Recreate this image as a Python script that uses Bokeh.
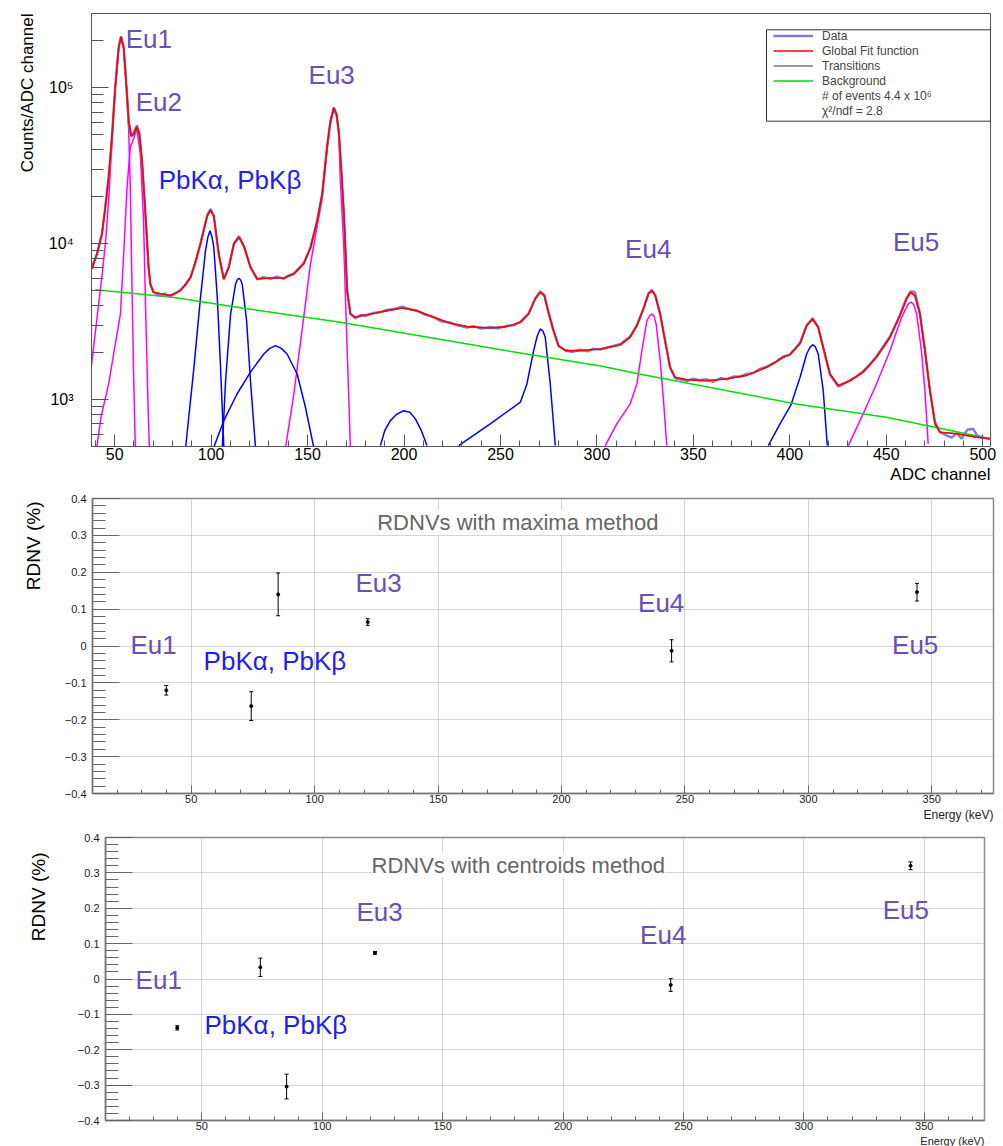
from math import pi
from bokeh.plotting import figure
from bokeh.models import (Range1d, FixedTicker, SingleIntervalTicker, CustomJSTickFormatter,
                          Label, BoxAnnotation, Legend, LegendItem, Whisker, TeeHead, ColumnDataSource, Title)
from bokeh.embed import file_html
from bokeh.resources import INLINE

FONT = "Liberation Sans"
EU_COLOR = "#6a50b4"
PB_COLOR = "#1e1ef0"

# ------------------------------------------------------------------ spectrum data
data_ch = [38, 41, 43.5, 45, 47, 48.5, 50.3, 52, 53.3, 54.7, 56, 57.3, 58.6, 59.8, 61.5, 62.8, 64.2, 65.5,
           66.7, 67.6, 68.5, 70, 72, 74, 76, 78, 80, 82, 84, 86.6, 89.4, 92, 94.5, 98, 99.7, 101.4, 104,
           106.6, 109.2, 111.8, 114.4, 117, 120.4, 123.9, 127, 130.8, 134, 137.7, 140, 142.9, 148, 151.5,
           155, 157.6, 160.1, 161.8, 163.6, 165, 166.2, 167.6, 168.8, 169.6, 170.5, 172.2, 174.8, 177.4,
           180, 184.3, 188, 191.2, 195, 199, 202, 206.8, 210, 215.4, 219, 224, 228, 232.7, 236, 240,
           244.7, 249, 253.4, 257, 260.3, 264.6, 268, 270.6, 272.7, 274.9, 277.5, 280.1, 283.6, 287,
           291.3, 295, 298, 301.7, 305, 308, 312, 317.2, 320.7, 324.1, 326.7, 328.5, 330.2, 332.8, 335.3,
           337.9, 340.5, 343, 346.6, 350, 353, 356.9, 360, 364, 367.3, 371, 374, 377.6, 381, 384, 388,
           392, 396.6, 400.1, 405.3, 408.7, 411.8, 414.7, 417.3, 420.8, 425.1, 428, 431.1, 434, 438, 441,
           444.9, 448, 451.9, 455, 457, 460.5, 462.6, 464.8, 467.4, 470, 472.6, 475.2, 477.8, 481, 484,
           486.4, 489, 492, 495, 497, 500, 503.6]
data_counts = [6950, 8700, 11700, 16800, 27500, 47000, 101000, 180000, 214000, 183000, 108000, 60000, 48500,
               51000, 57500, 51500, 33500, 19200, 10800, 7000, 5500, 4900, 4750, 4600, 4800, 4620, 4700,
               4850, 5050, 5400, 6150, 7600, 10100, 15300, 16700, 15000, 8450, 5900, 7150, 10000, 11200,
               9600, 7100, 5900, 6100, 5950, 6150, 5950, 6250, 6450, 7500, 9400, 14100, 21000, 42000,
               61000, 75000, 68000, 52000, 28500, 15500, 9300, 5050, 3560, 3320, 3480, 3440, 3600, 3650,
               3760, 3820, 3950, 3830, 3700, 3540, 3380, 3180, 3120, 2980, 2900, 2960, 2850, 2920, 2860,
               2980, 3000, 3160, 3580, 4460, 4950, 4700, 3600, 2750, 2200, 2080, 2020, 2090, 2040, 2120,
               2090, 2150, 2200, 2270, 2540, 3000, 3850, 4800, 5050, 4700, 3500, 2400, 1620, 1370, 1350,
               1320, 1360, 1330, 1350, 1300, 1370, 1350, 1410, 1400, 1460, 1480, 1560, 1630, 1720, 1890,
               1940, 2320, 3000, 3330, 2920, 2150, 1440, 1210, 1260, 1330, 1390, 1520, 1650, 1900, 2150,
               2540, 3050, 3480, 4500, 4950, 4900, 3600, 2100, 1150, 720, 620, 590, 570, 610, 560, 640,
               650, 590, 570, 560]

fit_ch = [38.2, 40.8, 43.4, 45.2, 46.9, 48.6, 50.3, 52.1, 53.3, 54.7, 55.9, 57.3, 58.6, 59.8, 61.5, 62.8,
          64.2, 65.5, 66.7, 67.6, 68.5, 70.2, 76.3, 79.0, 84.2, 89.4, 94.5, 98.0, 99.7, 101.4, 104.0,
          106.6, 109.2, 111.8, 114.4, 117.0, 120.4, 123.9, 130.8, 137.7, 142.9, 148.0, 151.5, 155.0,
          157.6, 160.1, 161.8, 163.6, 165.0, 166.2, 167.6, 168.8, 169.6, 170.5, 172.2, 174.8, 177.4,
          184.3, 191.2, 199.0, 206.8, 215.4, 224.0, 232.7, 244.7, 253.4, 260.3, 264.6, 268.0, 270.6,
          272.7, 274.9, 277.5, 280.1, 283.6, 291.3, 301.7, 312.0, 317.2, 320.7, 324.1, 326.7, 328.5,
          330.2, 332.8, 335.3, 337.9, 340.5, 346.6, 356.9, 367.3, 377.6, 388.0, 396.6, 400.1, 405.3,
          408.7, 411.8, 414.7, 417.3, 420.8, 425.1, 431.1, 438.0, 444.9, 451.9, 457.0, 460.5, 462.6,
          464.8, 467.4, 470.0, 472.6, 475.2, 477.8, 486.4, 496.8, 503.6]
fit_counts = [6890, 8590, 11530, 17100, 26600, 48000, 100500, 181000, 212000, 181000, 111000, 61400, 49200,
              50500, 56200, 50500, 34000, 18900, 11000, 7050, 5520, 4880, 4710, 4650, 5000, 6080, 9950,
              15100, 16400, 15100, 8590, 5940, 7050, 9950, 11000, 9700, 7050, 5940, 6030, 6030, 6400,
              7410, 9460, 14000, 20800, 41700, 60300, 74100, 67600, 52500, 28200, 15800, 9460, 5000, 3540,
              3370, 3450, 3570, 3720, 3870, 3720, 3370, 3090, 2940, 2880, 2940, 3130, 3540, 4420, 4880,
              4650, 3630, 2770, 2220, 2060, 2060, 2110, 2240, 2510, 2980, 3810, 4760, 5000, 4650, 3540,
              2390, 1610, 1390, 1340, 1320, 1360, 1430, 1610, 1870, 1950, 2290, 2980, 3290, 2900, 2160,
              1460, 1230, 1320, 1500, 1870, 2510, 3450, 4420, 4880, 4650, 3540, 2060, 1140, 700, 617, 603,
              573, 560]

bkg_ch = [40, 80, 111, 167, 245, 302, 322, 405, 450, 504]
bkg_counts = [5070, 4530, 3950, 3130, 2140, 1640, 1460, 929, 771, 560]

# Eu transitions (magenta)
eu1_ch = [37.4, 39.5, 41.5, 43.5, 45.5, 47.0, 48.6, 50.3, 52.1, 53.3, 54.7, 55.9, 57.3, 58.1, 59.0, 59.8, 60.7]
eu1_counts = [1430, 2400, 3900, 6300, 11000, 20000, 44000, 98000, 178000, 209000, 178000, 107000, 53000,
              23000, 5250, 1530, 494]
eu2_ch = [40.8, 43.0, 46.9, 50.0, 53.0, 54.7, 56.4, 58.1, 59.8, 61.5, 63.3, 65.0, 66.2, 67.3, 68.0]
eu2_counts = [500, 780, 1260, 2150, 3550, 8590, 22900, 41400, 47000, 55000, 37600, 14000, 3210, 938, 494]
eu3_ch = [138.6, 142.9, 148.0, 151.5, 155.0, 157.6, 160.1, 161.8, 163.6, 165.0, 166.2, 167.0, 168.8, 170.5, 172.2]
eu3_counts = [494, 1090, 3370, 7410, 13000, 19500, 40000, 59000, 73000, 66500, 50000, 25400, 9460, 2160, 494]
eu4_ch = [304.3, 310.3, 317.2, 320.7, 323.3, 325.9, 327.3, 328.5, 329.6, 330.7, 332.8, 334.5, 336.2]
eu4_counts = [507, 698, 938, 1260, 2060, 3210, 3450, 3540, 3430, 3050, 1780, 986, 507]
eu5_ch = [430.3, 437.2, 444.9, 451.9, 457.9, 461.3, 462.2, 463.1, 464.3, 465.7, 468.2, 470.0, 471.7]
eu5_counts = [507, 771, 1260, 2060, 3370, 4100, 4180, 4210, 4050, 3540, 2060, 1140, 520]

# other transitions (blue)
pbka_ch = [86.8, 91.1, 94.5, 97.1, 98.3, 99.4, 100.5, 101.4, 103.2, 104.9, 106.6]
pbka_counts = [494, 1610, 4530, 9020, 11000, 12100, 11000, 9460, 4530, 1610, 494]
pbkb_ch = [105.8, 107.5, 110.1, 112.7, 113.5, 114.4, 115.3, 116.1, 118.4, 120.4, 123.0]
pbkb_counts = [494, 1320, 3540, 5520, 5850, 6000, 5850, 5520, 3210, 1320, 494]
hump1_ch = [101.4, 106.6, 113.5, 120.4, 127.3, 130.4, 133.4, 136.4, 139.4, 144.6, 148.9, 153.2]
hump1_counts = [494, 733, 1090, 1500, 1960, 2130, 2220, 2130, 1960, 1460, 893, 494]
hump2_ch = [187.8, 190, 192.9, 196, 199.8, 203, 205.9, 209, 211.9]
hump2_counts = [507, 632, 733, 802, 849, 830, 752, 632, 507]
pk272_ch = [228.3, 244.7, 260.3, 263.7, 267.2, 269.0, 270.6, 272.0, 273.2, 275.8, 278.4]
pk272_counts = [507, 698, 962, 1260, 2060, 2550, 2840, 2750, 2510, 1260, 507]
pk412_ch = [388.8, 394.9, 400.5, 405.3, 408.7, 410.3, 411.8, 413.2, 414.7, 417.3, 419.4]
pk412_counts = [507, 698, 920, 1390, 1960, 2150, 2250, 2180, 1960, 1140, 507]

legend_labels = ["Data", "Global Fit function", "Transitions", "Background",
                 "# of events 4.4 x 10\u2076", "\u03c7\u00b2/ndf = 2.8"]

# ------------------------------------------------------------------ RDNV data
energy_max = [39.9, 74.3, 85.2, 121.5, 244.6, 344.0]
rdnv_max = [-0.120, -0.163, 0.140, 0.065, -0.013, 0.146]
rdnv_max_err = [0.013, 0.039, 0.058, 0.009, 0.030, 0.024]

energy_cen = [39.8, 74.3, 85.2, 121.9, 244.7, 344.3]
rdnv_cen = [-0.138, 0.033, -0.304, 0.074, -0.017, 0.320]
rdnv_cen_err = [0.006, 0.026, 0.035, 0.004, 0.018, 0.011]

# ================================================================== top panel
p1 = figure(width=1003, height=487, y_axis_type="log",
            x_range=Range1d(38, 504), y_range=Range1d(500, 3e5),
            output_backend="svg", toolbar_location=None,
            min_border_left=91, min_border_right=13, min_border_top=13, min_border_bottom=41)
p1.grid.visible = False
p1.outline_line_color = "#555555"
p1.outline_line_width = 1
p1.background_fill_color = "white"

for ax in (p1.xaxis[0], p1.yaxis[0]):
    ax.axis_line_color = "#555555"
    ax.major_tick_line_color = "#555555"
    ax.minor_tick_line_color = "#555555"
    ax.major_tick_out = 0
    ax.minor_tick_out = 0
    ax.major_label_text_font = FONT
    ax.major_label_text_font_size = "16px"
    ax.major_label_text_color = "black"

p1.xaxis.ticker = SingleIntervalTicker(interval=50, num_minor_ticks=5)
p1.xaxis.major_tick_in = 12
p1.xaxis.minor_tick_in = 6
p1.xaxis.major_label_standoff = 1

p1.yaxis.ticker = FixedTicker(ticks=[1000, 10000, 100000],
                              minor_ticks=[600, 700, 800, 900, 2000, 3000, 4000, 5000, 6000, 7000, 8000, 9000,
                                           20000, 30000, 40000, 50000, 60000, 70000, 80000, 90000, 200000])
p1.yaxis.major_label_overrides = {1000: "10\u00b3", 10000: "10\u2074", 100000: "10\u2075"}
p1.yaxis.major_tick_in = 17
p1.yaxis.minor_tick_in = 12
p1.yaxis.major_label_standoff = 18

MAG = "#ff00ff"
BLU = "#0000ff"
for cx, cy in [(eu1_ch, eu1_counts), (eu2_ch, eu2_counts), (eu3_ch, eu3_counts),
               (eu4_ch, eu4_counts), (eu5_ch, eu5_counts)]:
    p1.line(cx, cy, line_color=MAG, line_width=1.5)
for cx, cy in [(pbka_ch, pbka_counts), (pbkb_ch, pbkb_counts), (hump1_ch, hump1_counts),
               (hump2_ch, hump2_counts), (pk272_ch, pk272_counts), (pk412_ch, pk412_counts)]:
    p1.line(cx, cy, line_color=BLU, line_width=1.5)

r_bkg = p1.line(bkg_ch, bkg_counts, line_color="#00dd00", line_width=1.5)
r_data = p1.line(data_ch, data_counts, line_color="#7d7dd6", line_width=2.4)
r_trans = p1.line(fit_ch, fit_counts, line_color="#7a7a7a", line_width=1.5)
r_fit = p1.line(fit_ch, fit_counts, line_color="#ff0000", line_width=1.6)
r_ev = p1.line([], [], line_alpha=0)
r_chi = p1.line([], [], line_alpha=0)

box = BoxAnnotation(left=675, right=899, top=416.7, bottom=325.3,
                    left_units="screen", right_units="screen", top_units="screen", bottom_units="screen",
                    fill_alpha=0, line_color="#333333", line_width=1, line_alpha=1)
p1.add_layout(box)

legend = Legend(items=[LegendItem(label=legend_labels[0], renderers=[r_data]),
                       LegendItem(label=legend_labels[1], renderers=[r_fit]),
                       LegendItem(label=legend_labels[2], renderers=[r_trans]),
                       LegendItem(label=legend_labels[3], renderers=[r_bkg]),
                       LegendItem(label=legend_labels[4], renderers=[r_ev]),
                       LegendItem(label=legend_labels[5], renderers=[r_chi])],
                location=(682, 328), padding=0, spacing=0, margin=0,
                label_height=15, glyph_height=15, glyph_width=40, label_standoff=9,
                label_text_font=FONT, label_text_font_size="12px",
                border_line_alpha=0, background_fill_alpha=0)
p1.add_layout(legend)

top_labels = [("Eu1", 55.7, 206000, EU_COLOR), ("Eu2", 60.9, 81300, EU_COLOR),
              ("PbK\u03b1, PbK\u03b2", 72.8, 25700, PB_COLOR), ("Eu3", 150.5, 121000, EU_COLOR),
              ("Eu4", 314.6, 9290, EU_COLOR), ("Eu5", 453.4, 10300, EU_COLOR)]
for t, lx, ly, c in top_labels:
    p1.add_layout(Label(x=lx, y=ly, text=t, text_color=c, text_font=FONT, text_font_size="26px",
                        text_baseline="middle", text_align="left"))

p1.add_layout(Title(text="Counts/ADC channel", align="right", text_font=FONT, text_font_size="17px",
                    text_font_style="normal", text_color="black", standoff=18), "left")
p1.add_layout(Title(text="ADC channel", align="right", text_font=FONT, text_font_size="17px",
                    text_font_style="normal", text_color="black", standoff=0), "below")

# ================================================================== RDNV panels
yfmt = CustomJSTickFormatter(code="return Math.abs(tick) < 1e-9 ? '0' : tick.toFixed(1).replace('-', '\u2212');")


def rdnv_panel(height, left, right, top, bottom, energy, vals, errs, title, title_xy, labels,
               ylab_standoff, ylab_offset, elab_size):
    p = figure(width=1003, height=height, x_range=Range1d(10, 375), y_range=Range1d(-0.4, 0.4),
               output_backend="svg", toolbar_location=None,
               min_border_left=left, min_border_right=right, min_border_top=top, min_border_bottom=bottom)
    p.outline_line_color = "#888888"
    p.outline_line_width = 1.5
    p.xaxis.ticker = SingleIntervalTicker(interval=50, num_minor_ticks=5)
    p.yaxis.ticker = SingleIntervalTicker(interval=0.1, num_minor_ticks=5)
    p.yaxis.formatter = yfmt
    for ax in (p.xaxis[0], p.yaxis[0]):
        ax.axis_line_color = "#777777"
        ax.axis_line_width = 1.5
        ax.major_tick_line_color = "#666666"
        ax.minor_tick_line_color = "#666666"
        ax.major_tick_out = 0
        ax.minor_tick_out = 0
        ax.major_label_text_font = FONT
        ax.major_label_text_font_size = "11px"
        ax.major_label_text_color = "#1a1a1a"
    p.xaxis.major_tick_in = 8
    p.xaxis.minor_tick_in = 4
    p.xaxis.major_label_standoff = 1
    p.yaxis.major_tick_in = 27
    p.yaxis.minor_tick_in = 13
    p.yaxis.major_label_standoff = 6
    p.grid.grid_line_color = "#a8a8a8"
    p.grid.grid_line_dash = "1 1"
    p.grid.grid_line_width = 1

    p.add_layout(Label(x=title_xy[0], y=title_xy[1], text=title, text_align="center",
                       text_baseline="middle", text_font=FONT, text_font_size="22px",
                       text_color="#666666", background_fill_color="white"))
    for t, lx, ly, c in labels:
        p.add_layout(Label(x=lx, y=ly, text=t, text_color=c, text_font=FONT, text_font_size="26px",
                           text_baseline="middle", text_align="left"))

    src = ColumnDataSource(dict(x=energy, y=vals,
                                upper=[v + e for v, e in zip(vals, errs)],
                                lower=[v - e for v, e in zip(vals, errs)]))
    p.add_layout(Whisker(source=src, base="x", upper="upper", lower="lower", dimension="height",
                         line_color="black", line_width=1,
                         upper_head=TeeHead(size=4, line_color="black", line_width=1),
                         lower_head=TeeHead(size=4, line_color="black", line_width=1)))
    p.scatter("x", "y", source=src, size=3, color="black")

    p.add_layout(Title(text="RDNV (%)", align="right", text_font=FONT, text_font_size="19px",
                       text_font_style="normal", text_color="black", standoff=ylab_standoff,
                       offset=ylab_offset), "left")
    p.add_layout(Title(text="Energy (keV)", align="right", text_font=FONT, text_font_size=elab_size,
                       text_font_style="normal", text_color="#222222", standoff=0), "below")
    return p


pk = "PbK\u03b1, PbK\u03b2"
p2 = rdnv_panel(339, 92, 10, 11, 33, energy_max, rdnv_max, rdnv_max_err,
                "RDNVs with maxima method", (182.3, 0.336),
                [("Eu1", 25.4, 0.002, EU_COLOR), (pk, 55.0, -0.041, PB_COLOR), ("Eu3", 116.5, 0.170, EU_COLOR),
                 ("Eu4", 231.0, 0.116, EU_COLOR), ("Eu5", 333.9, 0.002, EU_COLOR)],
                35, 3, "12px")
p3 = rdnv_panel(320, 104, 19, 11, 24, energy_cen, rdnv_cen, rdnv_cen_err,
                "RDNVs with centroids method", (181.4, 0.321),
                [("Eu1", 22.5, -0.002, EU_COLOR), (pk, 51.1, -0.131, PB_COLOR), ("Eu3", 114.2, 0.189, EU_COLOR),
                 ("Eu4", 232.0, 0.124, EU_COLOR), ("Eu5", 332.7, 0.194, EU_COLOR)],
                51, 15, "11px")

open("out.html", "w").write(file_html([p1, p2, p3], INLINE))
